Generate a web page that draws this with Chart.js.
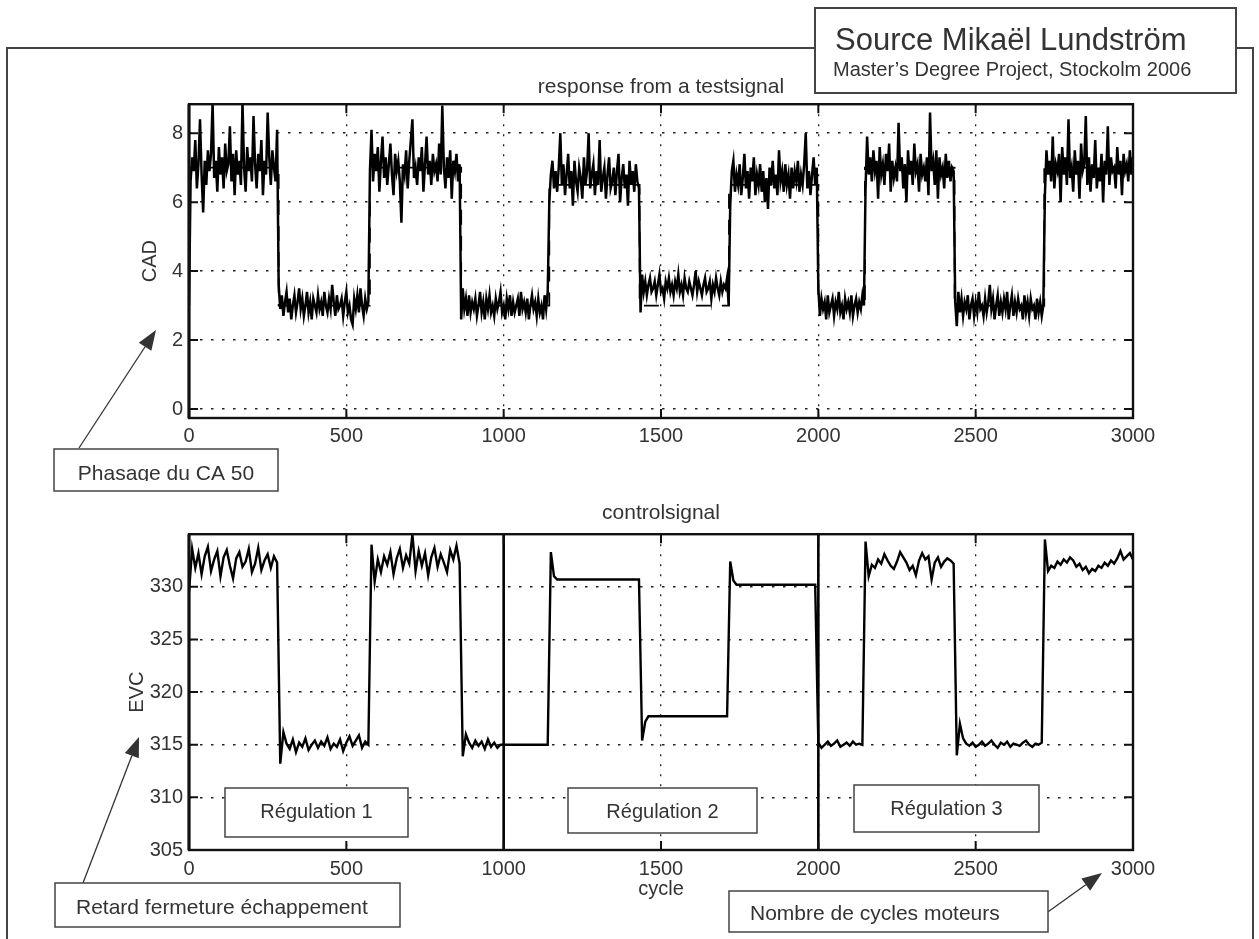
<!DOCTYPE html>
<html><head><meta charset="utf-8">
<script src="https://cdn.jsdelivr.net/npm/chart.js@4.4.1/dist/chart.umd.min.js"></script>
<style>
html,body{margin:0;padding:0;background:#fff;}
#wrap{position:relative;width:1259px;height:939px;overflow:hidden;background:#fff;}
canvas{position:absolute;left:0;top:0;}
</style></head><body>
<div id="wrap"><canvas id="c1" width="1259" height="939"></canvas><canvas id="c2" width="1259" height="939"></canvas></div>
<script>
// ---------- data ----------
const cadStep = 5;   // CAD response sampled every 5 engine cycles
const evcStep = 10;  // EVC control signal sampled every 10 engine cycles
const xTicks = [0, 500, 1000, 1500, 2000, 2500, 3000];
const cadTicks = [0, 2, 4, 6, 8];
const evcTicks = [305, 310, 315, 320, 325, 330];

// CA50 phasing response (CAD), cycles 0..3000 every 5
const cadResponse = [
  // 0-280 high
  3.0, 6.6, 7.3, 6.9, 7.8, 6.4, 7.1, 8.4, 6.8, 5.7,
  7.2, 6.5, 7.5, 6.9, 7.4, 8.9, 6.7, 7.2, 6.3, 7.6,
  6.8, 7.3, 6.4, 7.7, 6.9, 7.1, 8.2, 6.6, 7.4, 6.2,
  7.5, 6.8, 7.2, 6.5, 8.9, 7.0, 6.3, 7.6, 6.9, 7.3,
  6.6, 8.5, 7.1, 6.4, 7.4, 6.9, 7.8, 6.2, 7.2, 6.8,
  8.6, 7.3, 6.5, 7.5, 7.0, 6.6, 8.1,
  // 285-570 low
  3.6, 2.9, 3.3, 2.7, 3.1, 3.4, 2.8, 3.2, 2.6, 3.0,
  3.3, 2.8, 3.1, 3.5, 2.9, 3.2, 2.7, 3.0, 3.4, 2.8,
  3.1, 2.6, 3.2, 3.0, 2.8, 3.3, 2.9, 3.1, 2.7, 3.4,
  3.0, 2.8, 3.2, 2.9, 3.6, 3.1, 2.7, 3.3, 2.9, 3.0,
  3.2, 2.7, 3.1, 3.4, 2.8, 3.0, 2.6, 2.45, 3.2, 2.9,
  3.3, 2.8, 3.5, 3.0, 2.7, 3.2, 2.9, 3.1,
  // 575-860 high
  6.9, 8.1, 6.6, 7.4, 6.9, 7.6, 6.3, 7.2, 7.9, 6.7,
  7.3, 6.5, 7.1, 7.7, 6.8, 6.2, 7.4, 6.9, 7.2, 6.6,
  5.4, 7.1, 6.8, 7.5, 6.4, 7.2, 7.8, 8.4, 6.7, 7.0,
  6.5, 7.3, 6.9, 7.6, 6.3, 7.1, 7.9, 6.8, 7.2, 6.5,
  7.4, 6.9, 7.1, 6.6, 7.7, 6.8, 8.8, 7.0, 6.4, 7.3,
  6.7, 7.5, 6.1, 7.2, 6.9, 7.4, 6.6, 7.1,
  // 865-1140 low
  2.6, 3.5, 2.9, 3.2, 2.7, 3.3, 2.8, 3.1, 2.9, 3.2,
  2.7, 3.0, 3.4, 2.8, 3.1, 2.6, 3.2, 2.9, 3.3, 2.8,
  3.0, 2.7, 3.2, 2.9, 3.1, 3.4, 2.8, 3.0, 2.6, 3.2,
  2.9, 3.3, 2.7, 3.1, 2.8, 3.0, 3.2, 2.7, 3.4, 2.9,
  3.1, 2.8, 3.2, 2.6, 3.0, 3.3, 2.9, 3.1, 2.7, 3.2,
  2.8, 3.0, 2.6, 3.3, 2.9, 3.4,
  // 1145-1430 high
  6.0, 6.8, 7.2, 6.4, 6.9, 6.3, 7.0, 8.0, 6.5, 7.1,
  6.2, 6.8, 7.4, 6.4, 6.9, 5.9, 7.2, 6.6, 6.3, 7.0,
  6.7, 6.1, 7.3, 6.5, 6.9, 8.0, 6.4, 6.8, 7.1, 6.2,
  6.9, 6.5, 7.8, 6.3, 6.7, 7.0, 6.1, 6.8, 7.3, 6.4,
  6.6, 7.0, 6.2, 6.9, 7.4, 6.0, 6.7, 7.1, 6.4, 6.8,
  5.9, 7.2, 6.5, 6.9, 6.3, 7.1, 6.6, 6.4,
  // 1435-1715 low (settles above the reference)
  2.8, 3.9, 3.4, 3.7, 3.3, 3.6, 3.8, 3.4, 3.5, 3.7,
  3.3, 3.6, 3.9, 3.4, 3.5, 3.2, 3.7, 3.5, 3.8, 3.4,
  3.6, 3.3, 3.7, 3.5, 3.9, 3.4, 3.6, 3.3, 3.8, 3.5,
  3.4, 3.7, 3.5, 3.3, 3.6, 4.0, 3.4, 3.7, 3.5, 3.3,
  3.6, 3.8, 3.4, 3.5, 3.7, 3.2, 3.6, 3.4, 3.8, 3.5,
  3.3, 3.7, 3.4, 3.6, 3.5, 3.8, 3.0,
  // 1720-1995 high
  5.9, 6.9, 7.2, 6.3, 6.8, 6.5, 7.1, 6.2, 6.7, 7.4,
  6.4, 6.9, 6.1, 7.0, 6.6, 7.3, 6.2, 6.8, 6.5, 7.1,
  6.3, 6.9, 6.0, 6.7, 5.8, 7.0, 6.5, 7.2, 6.4, 6.8,
  6.2, 7.5, 6.6, 6.9, 6.3, 7.1, 6.5, 6.8, 6.1, 7.0,
  6.4, 6.9, 6.6, 7.2, 6.3, 6.8, 6.5, 7.1, 8.0, 6.4,
  6.9, 6.2, 6.8, 7.3, 6.5, 7.0,
  // 2000-2145 low
  3.5, 2.7, 3.2, 2.9, 3.1, 2.6, 3.3, 2.8, 3.0, 3.2,
  2.7, 3.1, 2.9, 3.4, 2.8, 3.0, 2.6, 3.2, 2.9, 3.1,
  2.8, 3.3, 2.7, 3.0, 3.2, 2.8, 3.1, 2.9, 3.3, 3.0,
  // 2150-2430 high
  6.4, 7.9, 6.8, 7.3, 6.6, 7.5, 6.9, 7.2, 6.1, 7.6,
  6.8, 7.1, 6.5, 7.4, 6.9, 7.7, 6.3, 7.2, 6.7, 7.0,
  6.6, 8.3, 6.9, 7.3, 6.4, 7.1, 6.0, 7.5, 6.8, 7.2,
  6.5, 7.7, 6.9, 7.1, 6.3, 7.4, 6.8, 7.0, 6.6, 7.3,
  6.2, 8.6, 6.9, 7.2, 6.5, 7.5, 6.1, 7.3, 6.8, 7.0,
  6.4, 7.4, 6.7, 7.2, 6.6, 7.0, 6.9,
  // 2435-2715 low
  3.1, 2.4, 3.4, 2.8, 3.2, 2.7, 3.1, 2.9, 3.3, 2.6,
  3.0, 3.2, 2.7, 3.1, 2.8, 3.4, 2.9, 3.0, 2.7, 3.2,
  2.8, 3.1, 3.6, 2.9, 3.2, 2.6, 3.0, 3.3, 2.7, 3.1,
  2.8, 3.2, 2.9, 3.4, 2.6, 3.0, 3.3, 2.7, 3.1, 2.8,
  3.2, 2.9, 3.0, 2.6, 3.3, 2.8, 3.1, 2.7, 3.2, 2.9,
  3.0, 2.6, 3.2, 2.8, 3.1, 2.7, 3.0,
  // 2720-3000 high
  6.2, 7.5, 6.8, 7.2, 6.6, 7.9, 6.4, 7.1, 6.9, 7.4,
  6.0, 7.6, 6.8, 7.3, 6.5, 8.4, 6.7, 7.0, 6.3, 7.5,
  6.8, 7.2, 6.1, 7.7, 6.9, 7.1, 8.5, 6.5, 7.3, 6.3,
  7.1, 6.7, 7.8, 6.4, 7.0, 6.6, 7.4, 6.0, 7.2, 6.8,
  8.2, 6.5, 7.3, 6.9, 7.0, 6.4, 7.6, 6.8, 7.2, 6.2,
  7.4, 6.9, 7.1, 6.6, 7.5, 6.8, 7.3
];

// test signal (reference, dashed)
const refCycles = [0, 0, 285, 285, 575, 575, 865, 865, 1145, 1145, 1432, 1432, 1716, 1716, 2000, 2000, 2148, 2148, 2433, 2433, 2718, 2718, 3000];
const refLevels = [3, 7, 7, 3, 3, 7, 7, 3, 3, 6.5, 6.5, 3, 3, 6.5, 6.5, 3, 3, 7, 7, 3, 3, 7, 7];

// exhaust valve closing control signal (EVC), cycles 0..3000 every 10
const evcSignal = [
  // 0-280
  329.5, 333.6, 331.8, 333.2, 331.2, 332.9, 333.8, 331.5, 332.6, 333.4, 331.0, 332.8, 333.5, 332.0, 330.8, 332.7, 333.3, 331.9, 332.4, 333.6, 331.4, 332.2, 333.7, 331.6, 332.5, 333.1, 331.8, 332.9, 332.3,
  // 290-570
  313.2, 316.2, 315.1, 314.6, 315.5, 314.3, 315.2, 314.8, 315.6, 314.5, 315.0, 315.4, 314.7, 315.3, 314.9, 315.7, 314.6, 315.1, 314.8, 315.5, 314.4, 315.2, 315.8, 314.9, 315.4, 315.9, 314.7, 315.3, 315.0,
  // 580-860
  334.0, 330.5, 332.6, 331.4, 332.9, 332.1, 333.3, 331.2, 332.7, 333.6, 331.8, 333.0, 332.2, 335.0, 331.5, 333.4, 332.0, 333.2, 331.1, 332.8, 333.7, 331.9, 333.1, 332.3, 331.4, 333.5, 332.6, 333.9, 332.2,
  // 870-990
  313.9, 316.0, 315.2, 314.7, 315.4, 314.9, 315.3, 314.6, 315.5, 314.8, 315.2, 314.7, 315.0,
  // 1000-1140
  315.0, 315.0, 315.0, 315.0, 315.0, 315.0, 315.0, 315.0, 315.0, 315.0, 315.0, 315.0, 315.0, 315.0, 315.0,
  // 1150-1430
  333.3, 331.0, 330.7, 330.7, 330.7, 330.7, 330.7, 330.7, 330.7, 330.7, 330.7, 330.7, 330.7, 330.7, 330.7, 330.7, 330.7, 330.7, 330.7, 330.7, 330.7, 330.7, 330.7, 330.7, 330.7, 330.7, 330.7, 330.7, 330.7,
  // 1440-1710
  315.4, 317.2, 317.7, 317.7, 317.7, 317.7, 317.7, 317.7, 317.7, 317.7, 317.7, 317.7, 317.7, 317.7, 317.7, 317.7, 317.7, 317.7, 317.7, 317.7, 317.7, 317.7, 317.7, 317.7, 317.7, 317.7, 317.7, 317.7,
  // 1720-1990
  332.4, 330.6, 330.2, 330.2, 330.2, 330.2, 330.2, 330.2, 330.2, 330.2, 330.2, 330.2, 330.2, 330.2, 330.2, 330.2, 330.2, 330.2, 330.2, 330.2, 330.2, 330.2, 330.2, 330.2, 330.2, 330.2, 330.2, 330.2,
  // 2000-2140
  315.2, 314.7, 315.0, 315.3, 314.9, 315.1, 315.4, 314.8, 315.0, 315.2, 314.9, 315.3, 315.0, 315.1, 315.0,
  // 2150-2430
  334.3, 331.0, 332.1, 331.8, 332.6, 332.2, 333.1, 332.5, 332.0, 331.7, 332.4, 333.3, 332.8, 332.3, 331.6, 332.0, 331.1, 332.5, 333.2, 332.6, 332.9, 330.7, 332.3, 332.8, 331.9, 332.4, 332.7, 332.5, 332.2,
  // 2440-2710
  314.0, 317.0, 315.6, 315.1, 314.9, 315.2, 314.8, 315.0, 315.3, 314.9, 315.1, 315.4, 315.0, 314.7, 315.2, 315.0, 315.3, 314.8, 315.1, 315.0, 314.9, 315.2, 315.4, 315.0, 314.8, 315.1, 315.0, 315.2,
  // 2720-3000
  334.5, 331.5, 332.0, 331.8, 332.4, 332.1, 332.6, 332.3, 332.8, 332.5, 331.9, 332.2, 331.6, 331.9, 331.3, 331.7, 331.5, 332.0, 331.8, 332.3, 332.0, 332.5, 332.2, 332.7, 333.4, 332.6, 332.9, 333.2, 332.6
];

// boundaries between the three control strategies
const regulationBounds = [1000, 2000];
const regulationLabels = ['Régulation 1', 'Régulation 2', 'Régulation 3'];

// ---------- rendering ----------
const FONT = "'Liberation Sans', Arial, Helvetica, sans-serif";
const TXT = '#333';
Chart.defaults.font.family = FONT;
Chart.defaults.font.size = 20;
Chart.defaults.color = TXT;

const seq = (vals, step) => vals.map((v, i) => ({ x: i * step, y: v }));
const pairs = (xs, ys) => xs.map((x, i) => ({ x: x, y: ys[i] }));

function xScale(withTitle, pad) {
  return {
    type: 'linear', min: 0, max: 3000,
    afterBuildTicks: s => { s.ticks = xTicks.map(v => ({ value: v })); },
    afterFit: s => { s.height = withTitle ? 51 : 40; s.paddingLeft = 0; s.paddingRight = 0; },
    grid: { drawTicks: false, color: '#222', lineWidth: 1.3 },
    border: { display: false, dash: [2, 8] },
    ticks: { padding: pad, autoSkip: false, maxRotation: 0, color: TXT, font: { size: 20 }, callback: v => String(v) },
    title: { display: withTitle, text: 'cycle', color: TXT, font: { size: 20 }, padding: { top: 0, bottom: 0 } }
  };
}
function yScale(min, max, ticks, title, width) {
  return {
    type: 'linear', min: min, max: max,
    afterBuildTicks: s => { s.ticks = ticks.map(v => ({ value: v })); },
    afterFit: s => { s.width = width; s.paddingTop = 0; s.paddingBottom = 0; },
    grid: { drawTicks: false, color: '#222', lineWidth: 1.6 },
    border: { display: false, dash: [2.5, 8.5] },
    ticks: { padding: 6, color: TXT, font: { size: 20 }, callback: v => String(v) },
    title: { display: true, text: title, color: TXT, font: { size: 20 }, padding: { top: 8, bottom: 0 } }
  };
}

// MATLAB-like box with inward tick marks
const boxPlugin = {
  id: 'matlabBox',
  afterDatasetsDraw(chart) {
    const { ctx, chartArea: a, scales } = chart;
    ctx.save();
    ctx.strokeStyle = '#111';
    ctx.lineWidth = 2;
    ctx.beginPath();
    scales.x.ticks.forEach(t => {
      const px = scales.x.getPixelForValue(t.value);
      ctx.moveTo(px, a.bottom); ctx.lineTo(px, a.bottom - 9);
      ctx.moveTo(px, a.top); ctx.lineTo(px, a.top + 9);
    });
    scales.y.ticks.forEach(t => {
      const py = scales.y.getPixelForValue(t.value);
      ctx.moveTo(a.left, py); ctx.lineTo(a.left + 9, py);
      ctx.moveTo(a.right, py); ctx.lineTo(a.right - 9, py);
    });
    ctx.stroke();
    ctx.lineWidth = 2.4;
    ctx.strokeRect(a.left, a.top, a.right - a.left, a.bottom - a.top);
    ctx.lineWidth = 3;
    ctx.beginPath(); ctx.moveTo(a.left, a.top); ctx.lineTo(a.left, a.bottom); ctx.stroke();
    ctx.restore();
  }
};

function labelBox(ctx, x, y, w, h) {
  ctx.fillStyle = '#fff';
  ctx.fillRect(x, y, w, h);
  ctx.strokeStyle = '#444';
  ctx.lineWidth = 1.5;
  ctx.strokeRect(x, y, w, h);
}
function arrow(ctx, x1, y1, x2, y2) {
  const ang = Math.atan2(y2 - y1, x2 - x1);
  const L = 20, W = 7.5;
  const bx = x2 - L * Math.cos(ang), by = y2 - L * Math.sin(ang);
  ctx.strokeStyle = '#333'; ctx.fillStyle = '#333'; ctx.lineWidth = 1.3;
  ctx.beginPath(); ctx.moveTo(x1, y1); ctx.lineTo(bx, by); ctx.stroke();
  ctx.beginPath();
  ctx.moveTo(x2, y2);
  ctx.lineTo(bx + W * Math.sin(ang), by - W * Math.cos(ang));
  ctx.lineTo(bx - W * Math.sin(ang), by + W * Math.cos(ang));
  ctx.closePath(); ctx.fill();
}

const decorPlugin = {
  id: 'decor',
  afterDraw(chart) {
    const ctx = chart.ctx;
    ctx.save();
    // outer frame
    ctx.strokeStyle = '#444'; ctx.lineWidth = 2;
    ctx.beginPath(); ctx.moveTo(7, 939); ctx.lineTo(7, 48); ctx.lineTo(1253, 48); ctx.lineTo(1253, 939); ctx.stroke();
    // source box
    ctx.fillStyle = '#fff'; ctx.fillRect(815, 8, 421, 85);
    ctx.strokeStyle = '#444'; ctx.lineWidth = 2; ctx.strokeRect(815, 8, 421, 85);
    ctx.fillStyle = TXT; ctx.textBaseline = 'alphabetic'; ctx.textAlign = 'left';
    ctx.font = '31px ' + FONT; ctx.fillText('Source Mikaël Lundström', 835, 50);
    ctx.font = '20px ' + FONT; ctx.fillText('Master\u2019s Degree Project, Stockolm 2006', 833, 76);

    // regulation boxes
    const regBoxes = [[225, 788, 183, 49, 818], [568, 788, 189, 45, 818], [854, 785, 185, 47, 815]];
    ctx.font = '20px ' + FONT;
    regBoxes.forEach((b, i) => {
      labelBox(ctx, b[0], b[1], b[2], b[3]);
      ctx.fillStyle = TXT; ctx.textAlign = 'center';
      ctx.fillText(regulationLabels[i], b[0] + b[2] / 2, b[4]);
    });

    // annotation boxes with arrows
    ctx.font = '21px ' + FONT;
    arrow(ctx, 79, 448, 156, 330);
    labelBox(ctx, 54, 449, 224, 42);
    ctx.save(); ctx.beginPath(); ctx.rect(54, 449, 224, 32); ctx.clip();
    ctx.fillStyle = TXT; ctx.textAlign = 'center'; ctx.fillText('Phasage du CA 50', 166, 480);
    ctx.restore();

    arrow(ctx, 83, 883, 139, 737);
    labelBox(ctx, 55, 883, 345, 44);
    ctx.fillStyle = TXT; ctx.textAlign = 'left'; ctx.fillText('Retard fermeture échappement', 76, 914);

    arrow(ctx, 1045, 914, 1102, 873);
    labelBox(ctx, 729, 891, 319, 41);
    ctx.fillStyle = TXT; ctx.textAlign = 'left'; ctx.fillText('Nombre de cycles moteurs', 750, 920);
    ctx.restore();
  }
};

const common = {
  responsive: false, animation: false, events: [],
  parsing: false, normalized: true
};

new Chart(document.getElementById('c1'), {
  type: 'line',
  data: {
    datasets: [
      { data: seq(cadResponse, cadStep), borderColor: '#000', borderWidth: 2.5, pointRadius: 0, tension: 0, fill: false },
      { data: pairs(refCycles, refLevels), borderColor: '#000', borderWidth: 1.8, borderDash: [15, 11], pointRadius: 0, tension: 0, fill: false }
    ]
  },
  options: Object.assign({}, common, {
    layout: { padding: { left: 130, right: 126, top: 0, bottom: 481 } },
    scales: { x: xScale(false, 6), y: yScale(-0.26, 8.84, cadTicks, 'CAD', 59) },
    plugins: {
      legend: { display: false }, tooltip: { enabled: false },
      title: { display: true, text: 'response from a testsignal', fullSize: false, color: TXT,
               font: { size: 21, weight: 'normal' }, padding: { top: 75, bottom: 4 } }
    }
  }),
  plugins: [boxPlugin]
});

const boundSets = regulationBounds.map(b => ({
  data: [{ x: b, y: 305 }, { x: b, y: 335 }], borderColor: '#000', borderWidth: 2.6, pointRadius: 0, fill: false
}));

new Chart(document.getElementById('c2'), {
  type: 'line',
  data: {
    datasets: [
      { data: seq(evcSignal, evcStep), borderColor: '#000', borderWidth: 2.4, pointRadius: 0, tension: 0, fill: false }
    ].concat(boundSets)
  },
  options: Object.assign({}, common, {
    layout: { padding: { left: 117, right: 126, top: 0, bottom: 38 } },
    scales: { x: xScale(true, 7), y: yScale(305, 335, evcTicks, 'EVC', 72) },
    plugins: {
      legend: { display: false }, tooltip: { enabled: false },
      title: { display: true, text: 'controlsignal', fullSize: false, color: TXT,
               font: { size: 21, weight: 'normal' }, padding: { top: 501, bottom: 8 } }
    }
  }),
  plugins: [boxPlugin, decorPlugin]
});
</script>
</body></html>
